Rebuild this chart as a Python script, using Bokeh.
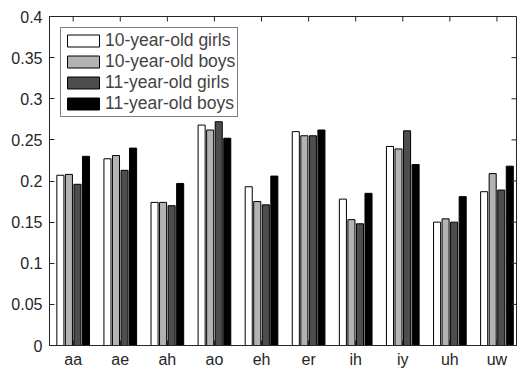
from bokeh.plotting import figure
from bokeh.models import Range1d, FixedTicker, LinearAxis, Legend, LegendItem, ColumnDataSource
from bokeh.embed import file_html
from bokeh.resources import INLINE
import numpy as np

# Vowel categories and the four speaker groups
vowels = ["aa", "ae", "ah", "ao", "eh", "er", "ih", "iy", "uh", "uw"]
girls_10 = [0.207, 0.227, 0.174, 0.268, 0.193, 0.260, 0.178, 0.242, 0.150, 0.187]
boys_10 = [0.208, 0.231, 0.174, 0.262, 0.175, 0.255, 0.153, 0.239, 0.154, 0.209]
girls_11 = [0.196, 0.213, 0.170, 0.272, 0.171, 0.255, 0.148, 0.261, 0.150, 0.189]
boys_11 = [0.230, 0.240, 0.197, 0.252, 0.206, 0.262, 0.185, 0.220, 0.181, 0.218]
series_names = ["10-year-old girls", "10-year-old boys", "11-year-old girls", "11-year-old boys"]
y_ticks = [0, 0.05, 0.1, 0.15, 0.2, 0.25, 0.3, 0.35, 0.4]

series = [girls_10, boys_10, girls_11, boys_11]
fills = ["#ffffff", "#b3b3b3", "#4d4d4d", "#000000"]
offsets = [-0.272, -0.091, 0.091, 0.272]
bar_w = 0.15
FONT = "Liberation Sans"
AXIS_COLOR = "#262626"

x_pos = np.arange(1, len(vowels) + 1)
x_range = Range1d(0.497, 10.415)
y_range = Range1d(0, 0.4)

p = figure(width=517, height=371, output_backend="svg", toolbar_location=None,
           x_range=x_range, y_range=y_range,
           min_border_left=49, min_border_right=1, min_border_top=16, min_border_bottom=26,
           x_axis_location=None, y_axis_location=None)
p.grid.visible = False
p.outline_line_color = AXIS_COLOR
p.outline_line_width = 1
p.background_fill_color = "white"
p.border_fill_color = "white"

renderers = []
for vals, fc, off, name in zip(series, fills, offsets, series_names):
    src = ColumnDataSource(dict(x=x_pos + off, top=vals))
    r = p.vbar(x="x", top="top", width=bar_w, bottom=0, source=src,
               fill_color=fc, line_color="black", line_width=1)
    renderers.append((name, r))

# inward tick marks along the top and right edges of the box
p.scatter(x=x_pos, y=[y_range.end] * len(x_pos), marker="dash", angle=np.pi / 2,
          size=10, line_color=AXIS_COLOR, line_width=1)
p.scatter(x=[x_range.end] * len(y_ticks), y=y_ticks, marker="dash",
          size=10, line_color=AXIS_COLOR, line_width=1)

label_map = {int(i): v for i, v in zip(x_pos, vowels)}

def make_axis(ticks, overrides=None):
    ax = LinearAxis(ticker=FixedTicker(ticks=list(ticks)))
    ax.axis_line_color = AXIS_COLOR
    ax.major_tick_line_color = AXIS_COLOR
    ax.minor_tick_line_color = None
    ax.major_tick_in = 5
    ax.major_tick_out = 0
    ax.major_label_text_font = FONT
    ax.major_label_text_color = "#262626"
    ax.major_label_text_font_size = "16px"
    if overrides:
        ax.major_label_overrides = overrides
    return ax

left = make_axis(y_ticks, {0: "0", 0.1: "0.1", 0.2: "0.2", 0.3: "0.3", 0.4: "0.4"})
left.major_label_standoff = 7
p.add_layout(left, "left")

bottom = make_axis(x_pos, overrides=label_map)
bottom.major_label_standoff = 5
p.add_layout(bottom, "below")

legend = Legend(items=[LegendItem(label=n, renderers=[r]) for n, r in renderers],
                location="top_left")
legend.margin = 11
legend.padding = 2
legend.spacing = 0
legend.glyph_width = 40
legend.glyph_height = 15
legend.label_height = 15
legend.label_standoff = 2
legend.label_text_font = FONT
legend.label_text_font_size = "17.5px"
legend.border_line_color = "black"
legend.border_line_width = 1
legend.background_fill_alpha = 1
p.add_layout(legend, "center")

open("out.html", "w").write(file_html(p, INLINE))
